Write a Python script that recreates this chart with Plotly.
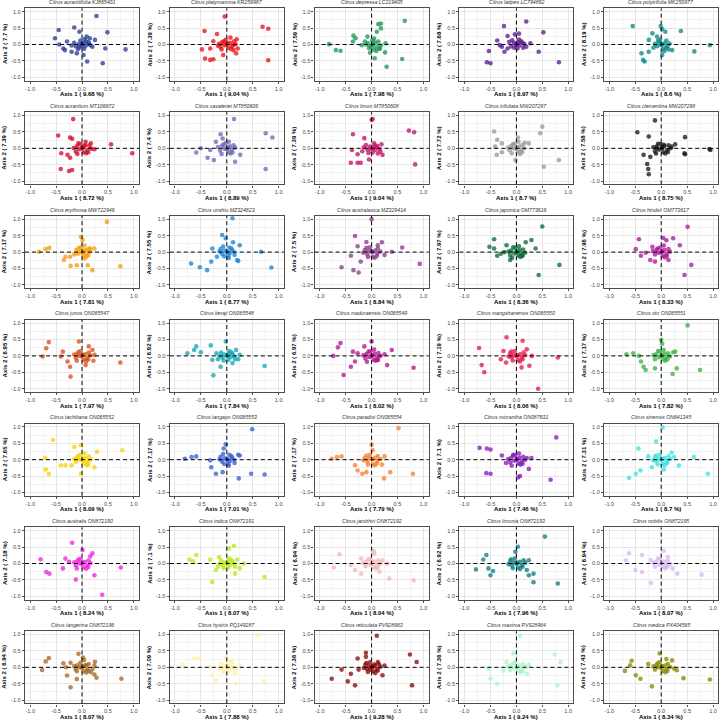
import plotly.graph_objects as go

titles = [
    "Citrus aurantiifolia KJ865401", "Citrus platymamma KR259987", "Citrus depressa LC219405", "Citrus latipes LC794892", "Citrus polytrifolia MK250977",
    "Citrus aurantium MT106672", "Citrus cavaleriei MT850606", "Citrus limon MT850608", "Citrus trifoliata MW207297", "Citrus clementina MW207298",
    "Citrus erythrosa MW722946", "Citrus unshiu MZ324823", "Citrus australasica MZ329414", "Citrus japonica OM773616", "Citrus hindsii OM773617",
    "Citrus junos ON065547", "Citrus keraji ON065548", "Citrus maduraensis ON065549", "Citrus mangshanensis ON065550", "Citrus oto ON065551",
    "Citrus tachibana ON065552", "Citrus tangayo ON065553", "Citrus paradisi ON065554", "Citrus micrantha ON087631", "Citrus sinensis ON641345",
    "Citrus australis ON872190", "Citrus indica ON872191", "Citrus jambhiri ON872192", "Citrus limonia ON872193", "Citrus nobilis ON872195",
    "Citrus tangerina ON872196", "Citrus hystrix PQ149287", "Citrus reticulata PV928963", "Citrus maxima PV928964", "Citrus medica PX404565",
]
axis1_pct = ["9.68", "9.04", "7.98", "8.97", "8.6",
             "8.72", "8.89", "9.04", "8.7", "8.75",
             "7.81", "8.77", "8.84", "8.36", "8.33",
             "7.97", "7.84", "8.02", "8.06", "7.82",
             "8.09", "7.01", "7.79", "7.46", "8.7",
             "8.24", "8.07", "8.04", "7.96", "8.07",
             "8.07", "7.88", "9.28", "9.24", "8.34"]
axis2_pct = ["7.7", "7.39", "7.59", "7.68", "8.19",
             "7.39", "7.4", "7.39", "7.72", "7.58",
             "7.17", "7.55", "7.5", "7.97", "7.96",
             "6.95", "6.92", "6.97", "7.19", "7.17",
             "7.65", "7.17", "7.17", "7.1", "7.31",
             "7.18", "7.1", "6.94", "6.92", "6.94",
             "6.94", "7.09", "7.36", "7.36", "7.43"]

P01 = [(0.28,0.87),(0.49,0.37),(-0.45,0.44),(-0.15,0.52),(-0.52,0.19),(-0.05,0.39),(0.25,0.14),(0.45,-0.12),(0.84,-0.15),(0.40,-0.57),(-0.29,0.09),(-0.36,-0.12),(-0.44,0.0),(0.10,-0.52),(0.03,-0.32),(-0.10,-0.27),(-0.20,-0.22),(-0.33,-0.17),(0.09,0.24),(0.15,0.19),
       (0.02,0.04),(-0.06,0.01),(0.07,-0.04),(-0.12,-0.05),(0.13,0.07),(0.04,-0.13),(-0.03,0.12),(0.16,-0.02),(-0.15,0.05),(0.05,0.16),(-0.08,-0.14),(0.11,0.02),(-0.01,-0.05),(0.0,0.01),(0.2,-0.07),(-0.2,-0.03),(0.08,0.09),(-0.05,-0.09)]
P02 = [(-0.04,0.85),(0.69,0.54),(0.80,0.48),(-0.43,0.41),(-0.19,0.32),(-0.48,-0.15),(-0.42,-0.43),(-0.32,-0.47),(-0.26,-0.45),(0.80,-0.48),(-0.07,-0.32),(0.18,-0.27),(0.21,-0.12),(0.19,0.16),(0.07,0.21),(-0.32,-0.12),(-0.26,0.1),(-0.17,-0.04),(0.13,-0.17),
       (0.01,0.03),(-0.04,-0.02),(0.06,0.05),(-0.09,0.07),(0.1,-0.06),(0.03,-0.1),(-0.12,-0.08),(0.14,0.1),(-0.02,0.14),(0.08,-0.14),(-0.15,0.02),(0.17,0.01),(0.0,-0.01),(-0.06,0.1),(0.12,-0.02),(-0.1,-0.15)]
P03 = [(0.64,0.72),(0.18,0.64),(0.13,0.62),(0.18,0.49),(0.1,0.39),(-0.35,0.27),(-0.31,0.19),(-0.36,0.09),(-0.82,0.01),(-0.69,-0.17),(-0.6,-0.19),(-0.08,0.24),(0.27,0.04),(0.26,-0.24),(0.06,-0.42),(0.59,-0.44),(0.29,-0.68),(-0.19,-0.02),(-0.13,0.09),(0.16,-0.12),
       (0.03,0.02),(-0.02,-0.05),(0.07,0.06),(-0.07,0.04),(0.1,-0.08),(0.04,-0.15),(-0.05,-0.11),(0.13,0.09),(0.01,0.12),(0.09,-0.2),(-0.1,0.0),(0.18,-0.03),(0.02,-0.02),(0.05,0.18),(0.15,-0.13),(-0.03,-0.25)]
P04 = [(0.19,0.70),(-0.24,0.56),(0.52,0.37),(-0.17,0.26),(-0.03,0.31),(0.05,0.33),(-0.37,0.12),(-0.32,-0.02),(-0.53,-0.2),(-0.57,-0.54),(-0.5,-0.57),(0.43,-0.22),(0.82,-0.54),(0.27,0.04),(-0.23,-0.22),(-0.28,-0.07),(0.19,-0.07),
       (0.0,0.02),(-0.05,0.05),(0.06,-0.03),(-0.1,-0.06),(0.11,0.06),(0.02,-0.12),(-0.08,0.13),(0.15,0.02),(-0.14,0.08),(0.05,0.15),(-0.04,-0.1),(0.09,0.1),(-0.01,-0.03),(0.13,-0.1),(-0.17,-0.12),(0.03,0.07)]
P05 = [(-0.55,0.56),(-0.01,0.56),(0.02,0.47),(-0.17,0.34),(0.08,0.39),(0.38,0.41),(0.94,-0.02),(0.64,-0.21),(-0.38,-0.27),(-0.35,-0.47),(-0.32,-0.52),(-0.24,-0.22),(-0.08,0.24),(0.21,-0.17),(0.02,-0.32),(-0.24,0.14),
       (0.02,0.01),(-0.04,0.06),(0.07,0.04),(-0.08,-0.05),(0.12,-0.06),(0.04,-0.13),(-0.12,0.02),(0.1,0.12),(-0.02,0.15),(0.06,-0.2),(-0.15,-0.1),(0.16,0.03),(0.0,-0.02),(0.09,-0.1),(-0.06,0.11),(0.14,-0.15)]
P06 = [(-0.17,0.89),(-0.46,0.39),(-0.23,0.33),(-0.19,0.29),(0.56,0.12),(0.97,-0.15),(-0.4,-0.15),(-0.28,-0.2),(-0.23,-0.29),(-0.41,-0.63),(-0.25,-0.69),(-0.19,-0.66),(0.24,-0.03),(0.17,0.15),(0.07,0.2),
       (0.01,0.02),(-0.05,-0.03),(0.05,0.07),(-0.1,0.06),(0.1,-0.05),(0.03,-0.12),(-0.12,-0.1),(0.14,0.08),(-0.03,0.13),(0.08,-0.15),(-0.16,0.01),(0.18,-0.01),(0.0,0.0),(-0.07,0.15),(0.12,-0.12),(0.06,0.1),(-0.09,-0.17)]
P07 = [(0.14,0.89),(0.75,0.46),(0.88,0.33),(0.75,-0.63),(-0.5,0.0),(-0.59,-0.13),(-0.37,-0.29),(-0.25,-0.36),(-0.12,0.43),(0.26,-0.2),(0.16,-0.41),(-0.21,0.2),(-0.32,-0.05),(-0.08,0.3),
       (0.02,0.03),(-0.04,-0.01),(0.06,0.06),(-0.09,0.08),(0.1,-0.04),(0.03,-0.11),(-0.13,-0.07),(0.13,0.09),(-0.02,0.16),(0.07,-0.16),(-0.17,0.04),(0.16,0.02),(0.0,-0.03),(-0.06,0.12),(0.11,-0.13),(-0.1,-0.17),(0.04,0.2)]
P08 = [(0.0,0.87),(0.02,0.89),(0.72,0.54),(0.82,0.49),(0.84,-0.49),(-0.36,0.43),(-0.4,-0.44),(-0.27,-0.44),(-0.21,-0.44),(-0.05,-0.34),(-0.14,0.31),(0.19,0.12),(0.21,-0.2),(-0.38,-0.05),(-0.27,-0.18),
       (0.03,0.01),(-0.03,0.05),(0.07,-0.05),(-0.08,-0.04),(0.11,0.07),(0.02,-0.13),(-0.11,0.1),(0.15,-0.02),(-0.15,0.03),(0.05,0.15),(-0.06,-0.14),(0.1,0.03),(-0.01,-0.02),(0.17,-0.1),(-0.18,-0.09),(0.06,0.09),(0.12,-0.16)]
P09 = [(-0.43,0.51),(0.5,0.66),(0.46,0.46),(0.82,-0.36),(0.53,-0.56),(-0.37,0.26),(-0.28,0.15),(-0.41,0.05),(-0.38,-0.2),(-0.28,-0.12),(0.03,0.33),(0.16,0.17),(-0.02,-0.36),(0.24,0.15),
       (0.01,0.03),(-0.05,0.0),(0.06,0.05),(-0.1,0.07),(0.09,-0.06),(0.03,-0.12),(-0.13,-0.06),(0.12,0.1),(-0.04,0.14),(0.07,-0.17),(-0.16,0.02),(0.15,0.0),(0.0,-0.02),(-0.07,0.12),(0.11,-0.12),(-0.09,-0.15),(0.04,0.2)]
P10 = [(-0.12,0.85),(-0.46,0.49),(-0.24,0.36),(0.46,0.34),(0.93,-0.02),(0.95,-0.05),(0.27,0.12),(0.45,-0.15),(0.46,-0.18),(-0.27,-0.48),(-0.25,-0.63),(-0.24,-0.79),(-0.34,-0.2),(-0.21,-0.26),(-0.08,0.0),
       (0.02,0.02),(-0.04,-0.04),(0.06,0.07),(-0.09,0.05),(0.11,-0.05),(0.04,-0.12),(-0.12,-0.09),(0.14,0.09),(-0.01,0.13),(0.08,-0.16),(-0.15,0.03),(0.18,0.0),(0.01,0.0),(-0.06,0.14),(0.13,-0.11),(0.05,0.11),(-0.1,-0.16),(0.2,0.05)]
P11 = [(0.48,0.92),(0.74,-0.43),(0.2,-0.55),(-0.83,0.01),(-0.7,0.09),(-0.63,0.13),(-0.32,-0.14),(-0.35,-0.24),(-0.22,-0.42),(-0.1,-0.4),(-0.02,0.47),(0.01,0.37),(0.24,0.11),(0.16,0.11),(0.05,-0.19),(0.11,-0.4),(-0.23,-0.14),(-0.15,-0.07),
       (0.02,0.03),(-0.05,0.01),(0.07,0.06),(-0.08,-0.05),(0.1,-0.04),(0.03,-0.1),(-0.11,0.07),(0.13,0.1),(-0.02,0.15),(0.08,-0.14),(0.16,0.02),(0.0,-0.02),(-0.06,0.12),(0.12,-0.1),(0.05,0.2)]
P12 = [(0.11,1.03),(-0.09,0.52),(-0.02,0.42),(0.25,0.21),(0.66,0.01),(0.86,-0.47),(-0.69,-0.35),(-0.52,-0.46),(-0.38,-0.55),(-0.3,-0.29),(-0.19,-0.14),(0.2,-0.24),(0.22,-0.27),(-0.28,0.11),(0.12,0.3),
       (0.01,0.02),(-0.04,0.05),(0.06,-0.03),(-0.09,-0.06),(0.1,0.07),(0.03,-0.11),(-0.12,0.09),(0.14,0.0),(-0.14,0.02),(0.05,0.14),(-0.05,-0.13),(0.09,0.11),(0.0,-0.01),(0.15,-0.09),(-0.07,0.17),(0.04,-0.18)]
P13 = [(0.0,1.0),(-0.32,0.49),(-0.1,0.31),(0.59,0.14),(0.93,-0.36),(-0.58,-0.46),(-0.35,-0.55),(-0.25,-0.62),(-0.4,-0.11),(-0.21,-0.29),(0.25,-0.09),(0.39,0.01),(0.12,0.21),(-0.27,0.18),(0.2,0.3),
       (0.02,0.0),(-0.05,0.04),(0.07,0.05),(-0.08,-0.07),(0.11,-0.05),(0.02,-0.14),(-0.13,0.06),(0.12,0.11),(-0.03,0.15),(0.06,-0.17),(-0.16,-0.02),(0.17,0.02),(0.0,0.02),(-0.07,-0.15),(0.1,-0.12),(-0.1,0.13)]
P14 = [(0.5,0.78),(0.83,-0.39),(0.43,-0.7),(-0.43,0.39),(-0.52,0.16),(-0.43,0.11),(-0.37,-0.11),(-0.19,0.21),(0.29,0.37),(0.37,0.11),(-0.12,-0.24),(0.11,-0.12),(-0.23,0.0),(0.18,0.3),(-0.3,-0.05),
       (0.01,0.01),(-0.04,-0.04),(0.06,0.06),(-0.1,0.05),(0.09,-0.05),(0.04,-0.11),(-0.12,-0.1),(0.13,0.08),(-0.02,0.13),(0.08,-0.15),(-0.15,0.02),(0.17,-0.02),(0.0,0.0),(-0.06,0.15),(0.12,-0.1),(-0.08,-0.17),(0.05,0.18)]
P15 = [(0.51,0.77),(0.58,-0.39),(0.45,-0.7),(-0.43,0.39),(-0.49,0.09),(-0.39,-0.11),(0.23,0.42),(0.36,0.21),(-0.21,-0.24),(-0.12,-0.29),(0.14,-0.24),(-0.17,0.16),(0.04,0.43),(0.1,0.36),(-0.3,-0.02),
       (0.02,0.02),(-0.05,-0.02),(0.06,0.06),(-0.09,0.07),(0.1,-0.06),(0.03,-0.12),(-0.12,-0.07),(0.14,0.09),(-0.02,0.14),(0.07,-0.16),(-0.16,0.03),(0.17,0.01),(0.0,-0.01),(-0.07,0.11),(0.11,-0.12),(0.05,0.2)]
P16 = [(-0.06,0.44),(-0.64,0.42),(-0.69,0.23),(-0.76,-0.02),(-0.37,0.13),(-0.28,-0.17),(-0.23,-0.33),(-0.22,-0.63),(0.74,-0.2),(0.24,0.03),(0.2,0.18),(0.13,0.29),(0.07,-0.28),(-0.41,-0.02),(0.22,-0.15),
       (0.01,0.03),(-0.04,0.0),(0.06,0.05),(-0.09,0.06),(0.1,-0.06),(0.03,-0.12),(-0.12,-0.06),(0.13,0.1),(-0.03,0.14),(0.08,-0.16),(-0.15,0.04),(0.16,0.01),(0.0,-0.02),(-0.07,0.12),(0.12,-0.11),(-0.1,-0.15)]
P17 = [(-0.02,0.44),(-0.31,0.32),(-0.59,0.29),(-0.63,0.18),(-0.76,0.08),(-0.5,0.11),(-0.28,-0.12),(-0.26,-0.59),(-0.12,-0.33),(0.73,-0.31),(0.25,0.03),(0.18,0.18),(0.11,-0.22),(0.22,-0.1),(-0.2,0.08),
       (0.02,0.01),(-0.05,0.04),(0.07,-0.04),(-0.08,-0.06),(0.11,0.07),(0.03,-0.12),(-0.11,0.1),(0.14,-0.01),(-0.14,-0.01),(0.05,0.15),(-0.06,-0.14),(0.09,0.1),(0.0,0.0),(0.16,-0.1),(-0.17,-0.1),(0.04,0.08)]
P18 = [(0.0,0.44),(-0.6,0.39),(-0.65,0.26),(-0.74,0.0),(-0.36,0.13),(-0.27,0.08),(-0.32,-0.17),(-0.4,-0.33),(-0.54,-0.58),(0.81,-0.36),(0.39,0.18),(0.3,-0.28),(0.12,-0.12),(-0.14,0.29),(0.25,0.05),
       (0.01,0.02),(-0.04,-0.03),(0.06,0.06),(-0.1,0.06),(0.1,-0.05),(0.04,-0.12),(-0.12,-0.08),(0.13,0.09),(-0.02,0.14),(0.08,-0.15),(-0.16,0.02),(0.17,0.0),(0.0,0.0),(-0.06,0.13),(0.12,-0.12),(0.05,0.19),(-0.09,-0.18)]
P19 = [(-0.72,0.24),(-0.67,-0.28),(-0.62,-0.5),(-0.19,0.57),(0.12,0.46),(0.42,-1.0),(0.8,-0.05),(0.25,-0.3),(-0.3,-0.1),(-0.2,-0.2),(0.2,0.2),(0.3,0.0),(-0.25,0.15),(0.1,-0.35),
       (0.02,0.02),(-0.05,0.03),(0.07,0.05),(-0.09,-0.05),(0.1,-0.06),(0.03,-0.13),(-0.12,0.08),(0.14,0.1),(-0.03,0.15),(0.07,-0.17),(-0.15,-0.02),(0.17,0.02),(0.0,-0.01),(-0.07,-0.14),(0.12,-0.1),(-0.1,0.13)]
P20 = [(0.51,0.93),(0.0,0.49),(-0.54,0.08),(-0.67,0.05),(-0.43,0.0),(-0.39,-0.17),(-0.34,-0.33),(-0.3,-0.43),(-0.12,-0.38),(0.27,0.13),(0.23,0.11),(0.75,-0.43),(0.22,-0.55),(0.3,-0.38),(0.02,0.37),
       (0.01,0.01),(-0.04,-0.04),(0.06,0.06),(-0.1,0.05),(0.09,-0.05),(0.04,-0.11),(-0.12,-0.1),(0.13,0.08),(-0.02,0.13),(0.08,-0.15),(-0.15,0.02),(0.17,-0.02),(0.0,0.0),(-0.06,0.15),(0.12,-0.1),(0.05,0.18)]
P21 = [(0.78,0.29),(-0.56,0.6),(-0.71,0.06),(-0.7,-0.3),(-0.64,-0.43),(-0.32,-0.17),(-0.41,-0.17),(-0.2,-0.17),(-0.02,-0.43),(0.29,0.24),(0.24,-0.23),(0.11,-0.17),(-0.02,0.44),(-0.15,0.39),
       (0.02,0.03),(-0.05,0.0),(0.07,0.05),(-0.09,0.07),(0.1,-0.05),(0.03,-0.11),(-0.12,-0.07),(0.13,0.1),(-0.03,0.15),(0.08,-0.15),(-0.15,0.03),(0.17,0.01),(0.0,-0.01),(-0.07,0.12),(0.12,-0.11),(0.05,0.19)]
P22 = [(0.49,0.93),(0.73,-0.45),(0.47,-0.43),(0.23,-0.57),(-0.81,0.03),(-0.68,0.08),(-0.59,0.1),(-0.32,-0.02),(-0.3,-0.23),(-0.21,-0.43),(-0.08,-0.38),(-0.02,0.47),(-0.06,0.34),(0.25,0.13),(0.22,0.15),
       (0.01,0.02),(-0.04,0.04),(0.06,-0.04),(-0.09,-0.06),(0.1,0.07),(0.03,-0.12),(-0.12,0.09),(0.14,0.0),(-0.14,0.01),(0.05,0.15),(-0.05,-0.13),(0.09,0.1),(0.0,0.0),(0.15,-0.1),(-0.07,0.17),(0.04,-0.18)]
P23 = [(0.52,0.96),(0.8,-0.43),(0.24,-0.57),(0.36,-0.38),(-0.77,0.03),(-0.67,0.08),(-0.58,0.1),(-0.32,-0.17),(-0.27,-0.33),(-0.18,-0.43),(-0.1,-0.38),(0.0,0.46),(0.02,0.29),(0.25,0.1),(0.2,-0.15),
       (0.02,0.01),(-0.05,0.05),(0.07,0.06),(-0.08,-0.06),(0.11,-0.05),(0.02,-0.13),(-0.13,0.06),(0.12,0.11),(-0.03,0.15),(0.06,-0.17),(-0.16,-0.02),(0.17,0.02),(0.0,0.02),(-0.07,-0.15),(0.1,-0.12),(-0.1,0.13)]
P24 = [(0.77,0.68),(-0.71,0.36),(-0.57,0.34),(-0.5,0.31),(-0.28,0.13),(-0.06,0.15),(-0.58,-0.41),(-0.5,-0.43),(0.03,-0.54),(0.07,-0.5),(0.66,-0.61),(0.29,0.05),(0.24,-0.28),(0.2,0.05),(-0.2,-0.1),
       (0.01,0.02),(-0.04,-0.03),(0.06,0.06),(-0.1,0.06),(0.1,-0.05),(0.04,-0.12),(-0.12,-0.08),(0.13,0.09),(-0.02,0.14),(0.08,-0.15),(-0.16,0.02),(0.17,0.0),(0.0,0.0),(-0.06,0.13),(0.12,-0.12),(0.05,0.19),(-0.09,-0.18)]
P25 = [(0.03,0.98),(-0.1,0.55),(-0.44,0.34),(-0.62,-0.56),(-0.49,-0.43),(-0.4,-0.33),(0.9,-0.43),(0.63,0.08),(0.25,0.08),(0.34,-0.18),(-0.18,-0.23),(0.2,0.22),(-0.25,0.1),(0.05,-0.3),
       (0.02,0.02),(-0.05,0.03),(0.07,0.05),(-0.09,-0.05),(0.1,-0.06),(0.03,-0.13),(-0.12,0.08),(0.14,0.1),(-0.03,0.15),(0.07,-0.17),(-0.15,-0.02),(0.17,0.02),(0.0,-0.01),(-0.07,-0.14),(0.12,-0.1),(-0.1,0.13)]
P26 = [(-0.19,0.63),(-0.8,0.13),(-0.69,-0.26),(-0.63,-0.31),(-0.37,-0.15),(-0.32,0.15),(-0.12,-0.49),(0.39,-0.95),(0.75,-0.12),(0.24,-0.36),(0.2,0.31),(0.16,0.22),(0.01,0.41),(-0.25,0.05),
       (0.01,0.03),(-0.04,0.0),(0.06,0.05),(-0.09,0.06),(0.1,-0.06),(0.03,-0.12),(-0.12,-0.06),(0.13,0.1),(-0.03,0.14),(0.08,-0.16),(-0.15,0.04),(0.16,0.01),(0.0,-0.02),(-0.07,0.12),(0.12,-0.11),(-0.1,-0.15)]
P27 = [(0.14,0.54),(0.04,0.46),(-0.59,0.26),(-0.72,0.12),(-0.65,0.07),(-0.32,0.12),(-0.21,-0.2),(-0.28,-0.56),(0.73,-0.41),(0.33,0.0),(0.25,-0.15),(0.16,-0.31),(-0.15,0.2),(0.2,0.12),
       (0.02,0.01),(-0.05,0.04),(0.07,-0.04),(-0.08,-0.06),(0.11,0.07),(0.03,-0.12),(-0.11,0.1),(0.14,-0.01),(-0.14,-0.01),(0.05,0.15),(-0.06,-0.14),(0.09,0.1),(0.0,0.0),(0.16,-0.1),(-0.17,-0.1),(0.04,0.08)]
P28 = [(0.04,0.39),(-0.62,0.28),(-0.73,-0.12),(-0.4,-0.05),(-0.32,-0.2),(-0.2,-0.31),(0.34,-0.46),(0.81,-0.51),(0.3,0.0),(0.21,0.1),(0.05,0.3),(-0.2,0.15),(0.15,-0.25),
       (0.01,0.02),(-0.04,-0.03),(0.06,0.06),(-0.1,0.06),(0.1,-0.05),(0.04,-0.12),(-0.12,-0.08),(0.13,0.09),(-0.02,0.14),(0.08,-0.15),(-0.16,0.02),(0.17,0.0),(0.0,0.0),(-0.06,0.13),(0.12,-0.12)]
P29 = [(0.55,0.82),(0.8,-0.61),(0.33,-0.57),(0.03,0.51),(-0.58,0.26),(-0.64,0.12),(-0.78,-0.18),(-0.54,-0.15),(-0.5,-0.36),(-0.45,-0.23),(0.24,0.1),(0.33,-0.31),(0.24,-0.36),(-0.02,0.36),(0.2,-0.2),
       (0.02,0.02),(-0.05,0.03),(0.07,0.05),(-0.09,-0.05),(0.1,-0.06),(0.03,-0.13),(-0.12,0.08),(0.14,0.1),(-0.03,0.15),(0.07,-0.17),(-0.15,-0.02),(0.17,0.02),(0.0,-0.01),(-0.07,-0.14),(0.12,-0.1),(-0.1,0.13)]
P30 = [(0.05,0.39),(-0.37,0.26),(-0.62,0.31),(-0.68,0.1),(-0.5,-0.2),(-0.37,-0.26),(-0.2,-0.59),(0.78,-0.34),(0.31,-0.31),(0.22,-0.15),(0.13,0.2),(-0.2,0.1),
       (0.01,0.01),(-0.04,-0.04),(0.06,0.06),(-0.1,0.05),(0.09,-0.05),(0.04,-0.11),(-0.12,-0.1),(0.13,0.08),(-0.02,0.13),(0.08,-0.15),(-0.15,0.02),(0.17,-0.02),(0.0,0.0),(-0.06,0.15),(0.12,-0.1)]
P31 = [(-0.64,0.28),(-0.7,0.18),(-0.77,-0.08),(-0.36,0.12),(-0.31,0.0),(-0.29,-0.25),(-0.22,0.14),(-0.1,-0.12),(-0.1,-0.36),(-0.22,-0.61),(-0.07,0.41),(0.02,0.3),(0.04,0.22),(0.08,0.07),(0.24,0.05),(0.25,0.17),(0.17,-0.15),(0.24,-0.22),(0.28,-0.32),(0.76,-0.35),(0.2,-0.05),
       (0.01,0.03),(-0.04,0.0),(0.06,0.05),(-0.09,0.06),(0.1,-0.06),(0.03,-0.12),(-0.12,-0.06),(0.13,0.1),(-0.03,0.14),(0.08,-0.16),(-0.15,0.04),(0.0,-0.02),(0.12,-0.11)]
P32 = [(0.6,0.98),(0.71,-0.42),(0.18,-0.5),(-0.54,0.27),(-0.63,0.27),(-0.85,0.08),(-0.32,0.0),(-0.28,-0.25),(-0.21,-0.4),(-0.02,0.29),(0.25,0.06),(0.15,-0.2),(0.1,0.2),
       (0.02,0.01),(-0.05,0.04),(0.07,-0.04),(-0.08,-0.06),(0.11,0.07),(0.03,-0.12),(-0.11,0.1),(0.14,-0.01),(-0.14,-0.01),(0.05,0.15),(-0.06,-0.14),(0.09,0.1),(0.0,0.0),(0.16,-0.1)]
P33 = [(0.1,0.96),(0.74,0.39),(0.87,0.16),(0.78,-0.55),(-0.77,-0.35),(-0.58,-0.07),(-0.46,-0.43),(-0.32,-0.55),(-0.25,-0.07),(-0.11,0.44),(-0.11,0.32),(-0.27,0.27),(0.12,0.16),(0.21,-0.24),(-0.4,-0.2),(0.25,0.05),
       (0.02,0.02),(-0.05,0.03),(0.07,0.05),(-0.09,-0.05),(0.1,-0.06),(0.03,-0.13),(-0.12,0.08),(0.14,0.1),(-0.03,0.15),(0.07,-0.17),(-0.15,-0.02),(0.17,0.02),(0.0,-0.01),(-0.07,-0.14),(0.12,-0.1),(-0.1,0.13),(0.05,0.08),(-0.02,-0.07)]
P34 = [(0.07,0.96),(0.74,0.39),(0.85,0.16),(0.79,-0.55),(-0.5,-0.35),(-0.37,-0.5),(-0.19,0.16),(-0.06,0.42),(0.24,0.08),(-0.54,-0.04),(0.2,-0.2),(-0.25,-0.1),
       (0.01,0.02),(-0.04,-0.03),(0.06,0.06),(-0.1,0.06),(0.1,-0.05),(0.04,-0.12),(-0.12,-0.08),(0.13,0.09),(-0.02,0.14),(0.08,-0.15),(-0.16,0.02),(0.17,0.0),(0.0,0.0),(-0.06,0.13),(0.12,-0.12)]
P35 = [(0.94,-0.37),(-0.03,0.42),(-0.57,0.2),(-0.6,0.06),(-0.7,-0.11),(-0.49,-0.24),(-0.4,-0.35),(-0.18,-0.58),(0.43,-0.33),(0.21,0.21),(0.25,-0.04),(0.3,-0.09),(-0.25,0.1),(0.1,0.25),
       (0.02,0.03),(-0.05,0.0),(0.07,0.05),(-0.09,0.07),(0.1,-0.05),(0.03,-0.11),(-0.12,-0.07),(0.13,0.1),(-0.03,0.15),(0.08,-0.15),(-0.15,0.03),(0.17,0.01),(0.0,-0.01),(-0.07,0.12),(0.12,-0.11)]

points = [P01, P02, P03, P04, P05, P06, P07, P08, P09, P10,
          P11, P12, P13, P14, P15, P16, P17, P18, P19, P20,
          P21, P22, P23, P24, P25, P26, P27, P28, P29, P30,
          P31, P32, P33, P34, P35]

colors = ["#2B3F93", "#E8141B", "#1D9A5A", "#5E1D8E", "#0B8A86",
          "#D1102F", "#6F6BB5", "#C2156A", "#9A9A9A", "#1A1A1A",
          "#F59D16", "#1C87D2", "#8C3D8C", "#0B6B3B", "#AD1A9C",
          "#D9531E", "#18A7B5", "#B3168F", "#E8194C", "#3DB249",
          "#F7D40A", "#3C5ED4", "#F58233", "#8A1CB8", "#3DE3E3",
          "#EE25E0", "#B9E91C", "#F5B9BA", "#127F84", "#D9BAF2",
          "#A86A22", "#FFF0B0", "#8B0A0A", "#AAF5C9", "#8A8A00"]

W, H = 721, 720
COL_STEP, ROW_STEP = 144.8, 103.8
PW, PH = 114.0, 72.2
FONT = "Liberation Sans, Arial, sans-serif"

fig = go.Figure()
layout = {}
shapes = []
annotations = []
tickvals = [-1, -0.5, 0, 0.5, 1]
ticktext = ["-1.0", "-0.5", "0.0", "0.5", "1.0"]

for i in range(35):
    r, c = divmod(i, 5)
    left = 25 + COL_STEP * c
    right = left + PW
    top = 8.4 + ROW_STEP * r
    bottom = top + PH
    s = "" if i == 0 else str(i + 1)
    xs = [p[0] for p in points[i]]
    ys = [p[1] for p in points[i]]
    fig.add_trace(go.Scatter(
        x=xs, y=ys, mode="markers", xaxis="x" + s, yaxis="y" + s,
        marker=dict(color=colors[i], size=4.6, opacity=0.78, line=dict(width=0)),
        showlegend=False, hoverinfo="skip"))
    common = dict(range=[-1.1, 1.1], tickvals=tickvals, ticktext=ticktext,
                  showgrid=True, gridcolor="#E6E6E6", gridwidth=0.6,
                  minor=dict(tickvals=[-0.75, -0.25, 0.25, 0.75], showgrid=True,
                             gridcolor="#F3F3F3", gridwidth=0.5),
                  zeroline=False, showline=True, mirror=True,
                  linecolor="#4D4D4D", linewidth=1.4,
                  ticks="outside", ticklen=2, tickwidth=0.6, tickcolor="#4D4D4D",
                  tickfont=dict(size=5.6, color="#4D4D4D", family=FONT),
                  fixedrange=True)
    layout["xaxis" + s] = dict(domain=[left / W, right / W], anchor="y" + s, **common)
    layout["yaxis" + s] = dict(domain=[1 - bottom / H, 1 - top / H], anchor="x" + s, **common)
    dash = dict(color="black", width=1.0, dash="4px,3px")
    shapes.append(dict(type="line", xref="x" + s, yref="y" + s + " domain",
                       x0=0, x1=0, y0=0, y1=1, line=dash, layer="above"))
    shapes.append(dict(type="line", xref="x" + s + " domain", yref="y" + s,
                       x0=0, x1=1, y0=0, y1=0, line=dash, layer="above"))
    cx = (left + right) / 2
    cy = (top + bottom) / 2
    annotations.append(dict(text="<i>" + titles[i] + "</i>", xref="paper", yref="paper",
                            x=cx / W, y=1 - (top - 6.3) / H, showarrow=False,
                            xanchor="center", yanchor="middle",
                            font=dict(size=5.2, color="#333333", family=FONT)))
    annotations.append(dict(text="<b>Axis 1 ( " + axis1_pct[i] + " %)</b>", xref="paper", yref="paper",
                            x=cx / W, y=1 - (bottom + 13.7) / H, showarrow=False,
                            xanchor="center", yanchor="middle",
                            font=dict(size=6, color="black", family=FONT)))
    annotations.append(dict(text="<b>Axis 2 ( " + axis2_pct[i] + " %)</b>", xref="paper", yref="paper",
                            x=(left - 20.5) / W, y=1 - cy / H, showarrow=False, textangle=-90,
                            xanchor="center", yanchor="middle",
                            font=dict(size=6, color="black", family=FONT)))

fig.update_layout(
    width=W, height=H, margin=dict(l=0, r=0, t=0, b=0),
    paper_bgcolor="white", plot_bgcolor="white",
    font=dict(family=FONT),
    shapes=shapes, annotations=annotations, **layout)

fig.write_html("out.html", include_plotlyjs=True, config={"displayModeBar": False})
